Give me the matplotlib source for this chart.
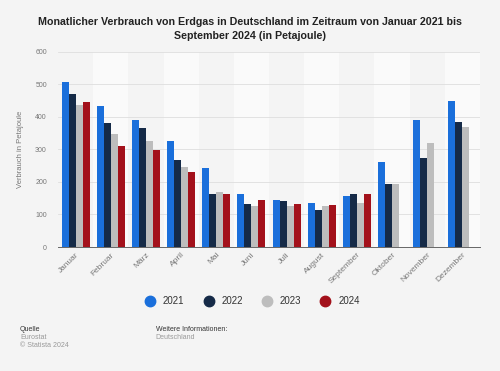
import numpy as np
import matplotlib
matplotlib.use("Agg")
import matplotlib.pyplot as plt
from matplotlib.lines import Line2D

months = ["Januar", "Februar", "März", "April", "Mai", "Juni", "Juli",
          "August", "September", "Oktober", "November", "Dezember"]
years = ["2021", "2022", "2023", "2024"]
v2021 = [506, 433, 390, 325, 242, 162, 143, 136, 158, 260, 390, 447]
v2022 = [469, 380, 364, 266, 164, 131, 140, 113, 162, 193, 273, 383]
v2023 = [437, 346, 325, 247, 168, 127, 125, 125, 135, 195, 319, 367]
v2024 = [444, 311, 297, 231, 162, 143, 131, 129, 162]
colors = ["#1a6fdb", "#152a47", "#bdbdbd", "#a3111b"]

bg = "#f4f4f4"
plt.rcParams['font.family'] = ['Liberation Sans', 'DejaVu Sans']

fig = plt.figure(figsize=(5.0, 3.71), dpi=100, facecolor=bg)
ax = fig.add_axes([0.116, 0.334, 0.844, 0.527])
ax.set_facecolor(bg)

x = np.arange(len(months))
# alternating column stripes
for i in x:
    if i % 2 == 1:
        ax.axvspan(i - 0.5, i + 0.5, color="#fafafa", zorder=0, lw=0)

w = 0.2
series = [v2021, v2022, v2023, v2024]
for k, vals in enumerate(series):
    xs = x[:len(vals)] + (k - 1.5) * w
    ax.bar(xs, vals, width=w, color=colors[k], zorder=3, linewidth=0)

ax.set_xlim(-0.5, 11.5)
ax.set_ylim(0, 600)
ax.set_yticks(range(0, 601, 100))
ax.yaxis.grid(True, color="#dedede", lw=0.6, zorder=1)
ax.set_axisbelow(True)
for s in ["top", "right", "left"]:
    ax.spines[s].set_visible(False)
ax.spines["bottom"].set_color("#666666")
ax.spines["bottom"].set_linewidth(0.7)
ax.tick_params(axis="y", length=0, labelsize=5, labelcolor="#777777", pad=8)
ax.tick_params(axis="x", length=0, labelsize=6, labelcolor="#777777", pad=3)
ax.set_xticks(x)
ax.set_xticklabels(months, rotation=45, ha="right", rotation_mode="anchor")
ax.set_ylabel("Verbrauch in Petajoule", fontsize=5.5, color="#777777", labelpad=8)

fig.text(0.5, 0.955, "Monatlicher Verbrauch von Erdgas in Deutschland im Zeitraum von Januar 2021 bis\nSeptember 2024 (in Petajoule)",
         ha="center", va="top", fontsize=7.7, fontweight="bold", color="#222222", linespacing=1.5)

handles = [Line2D([], [], marker="o", ls="", markersize=7.5, color=c) for c in colors]
fig.legend(handles, years, loc="center", bbox_to_anchor=(0.5, 0.188), ncol=4, frameon=False,
           fontsize=7, handletextpad=0.3, columnspacing=1.5, labelcolor="#333333")

fig.text(0.04, 0.108, "Quelle", fontsize=5, color="#333333")
fig.text(0.04, 0.086, "Eurostat", fontsize=5, color="#999999")
fig.text(0.04, 0.064, "© Statista 2024", fontsize=5, color="#999999")
fig.text(0.311, 0.108, "Weitere Informationen:", fontsize=5, color="#333333")
fig.text(0.311, 0.086, "Deutschland", fontsize=5, color="#999999")

fig.savefig("out.png", dpi=100, facecolor=bg)
